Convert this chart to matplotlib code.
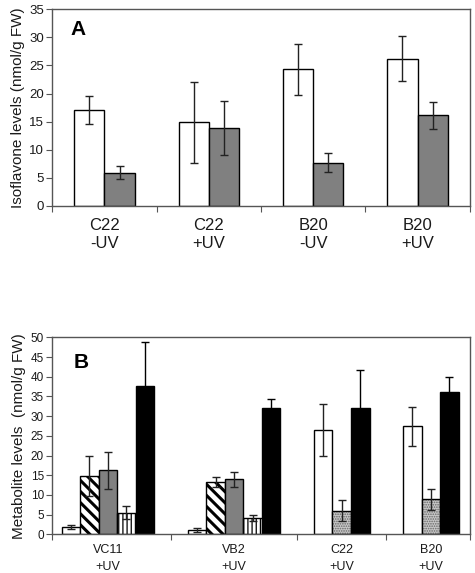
import numpy as np
import matplotlib
matplotlib.use("Agg")
import matplotlib.pyplot as plt

plt.rcParams['font.family'] = ['Liberation Sans', 'DejaVu Sans']

# ---------------- Panel A data ----------------
a_categories = ['C22\n-UV', 'C22\n+UV', 'B20\n-UV', 'B20\n+UV']
a_white = [17.0, 14.9, 24.3, 26.2]
a_white_err = [2.5, 7.2, 4.5, 3.95]
a_gray = [5.9, 13.9, 7.7, 16.1]
a_gray_err = [1.15, 4.8, 1.7, 2.45]
a_yticks = [0, 5, 10, 15, 20, 25, 30, 35]

# ---------------- Panel B data ----------------
b_categories = ['VC11\n+UV', 'VB2\n+UV', 'C22\n+UV', 'B20\n+UV']
nan = np.nan
b_white = [1.9, 1.0, 26.4, 27.4]
b_white_err = [0.5, 0.5, 6.6, 4.9]
b_hatch = [14.8, 13.2, nan, nan]
b_hatch_err = [5.1, 1.3, nan, nan]
b_gray = [16.2, 14.0, nan, nan]
b_gray_err = [4.6, 1.9, nan, nan]
b_vert = [5.5, 4.1, nan, nan]
b_vert_err = [1.6, 0.8, nan, nan]
b_dot = [nan, nan, 6.0, 8.9]
b_dot_err = [nan, nan, 2.6, 2.6]
b_black = [37.7, 32.1, 32.1, 36.1]
b_black_err = [11.1, 2.2, 9.6, 3.9]
b_yticks = [0, 5, 10, 15, 20, 25, 30, 35, 40, 45, 50]

fig = plt.figure(figsize=(4.75, 5.73), dpi=100)

spine_col = '#555555'
txt_col = '#1a1a1a'
err_kw = dict(ecolor='#222222', elinewidth=1.0, capsize=3, capthick=1.0)
err_kw_black = dict(ecolor='black', elinewidth=1.0, capsize=3, capthick=1.0)

# ================= Panel A =================
axA = fig.add_axes([0.110, 0.6405, 0.879, 0.3435])
xa = np.arange(len(a_categories))
w = 0.29
axA.bar(xa - w / 2, a_white, w, color='white', edgecolor='black', linewidth=1.0,
        yerr=a_white_err, error_kw=err_kw, zorder=2)
axA.bar(xa + w / 2, a_gray, w, color='#808080', edgecolor='black', linewidth=1.0,
        yerr=a_gray_err, error_kw=err_kw, zorder=2)
axA.set_xlim(-0.5, len(a_categories) - 0.5)
axA.set_ylim(0, 35)
axA.set_yticks(a_yticks)
axA.set_yticklabels([str(t) for t in a_yticks], fontsize=9.5, color=txt_col)
axA.set_xticks(np.arange(-0.5, len(a_categories), 1.0))
axA.set_xticklabels([])
axA.set_xticks(xa, minor=True)
axA.set_xticklabels(a_categories, minor=True, fontsize=12, color=txt_col, linespacing=1.2)
axA.tick_params(axis='x', which='minor', length=0, pad=9)
axA.tick_params(axis='x', which='major', length=4, color=spine_col, direction='out')
axA.tick_params(axis='y', length=4, color=spine_col, direction='out', pad=2)
axA.set_ylabel('Isoflavone levels (nmol/g FW)', fontsize=11, color=txt_col, labelpad=3)
for s in axA.spines.values():
    s.set_color(spine_col)
    s.set_linewidth(1.0)
axA.text(0.044, 0.895, 'A', transform=axA.transAxes, fontsize=15, fontweight='bold',
         color='black', ha='left', va='center')

# ================= Panel B =================
axB = fig.add_axes([0.110, 0.0675, 0.879, 0.3438])
series = [
    (b_white, b_white_err, dict(color='white', edgecolor='black'), None),
    (b_hatch, b_hatch_err, dict(color='white', edgecolor='black', hatch='\\\\\\'), 2.2),
    (b_gray, b_gray_err, dict(color='#808080', edgecolor='black'), None),
    (b_vert, b_vert_err, dict(color='white', edgecolor='black', hatch='||||'), 0.9),
    (b_dot, b_dot_err, dict(color='#c8c8c8', edgecolor='#666666', hatch='.......'), 0.8),
    (b_black, b_black_err, dict(color='black', edgecolor='black'), None),
]
ncat = len(b_categories)
# layout: bars of width 1 contiguous within each group
left_margin, group_gap, right_margin = 0.5, 1.8, 0.6
counts = [sum(1 for s in series if not np.isnan(s[0][i])) for i in range(ncat)]
starts = []
pos = left_margin
for i, c in enumerate(counts):
    starts.append(pos)
    pos += c + (group_gap if i < ncat - 1 else right_margin)
xmax = pos
centers = [starts[i] + counts[i] / 2 for i in range(ncat)]
bounds = [starts[i] + counts[i] + group_gap / 2 for i in range(ncat - 1)]

slot = [0] * ncat
for vals, errs, style, hlw in series:
    xs, ys, es = [], [], []
    for i in range(ncat):
        if np.isnan(vals[i]):
            continue
        xs.append(starts[i] + slot[i] + 0.5)
        ys.append(vals[i])
        es.append(errs[i])
        slot[i] += 1
    if hlw is not None:
        plt.rcParams['hatch.linewidth'] = hlw
    ekw = err_kw_black if style['color'] == 'black' else err_kw
    if style.get('hatch', '').startswith('.'):
        axB.bar(xs, ys, 1.0, linewidth=0, zorder=2, **style)
        axB.bar(xs, ys, 1.0, color='none', edgecolor='black', linewidth=1.0, zorder=2.1,
                yerr=es, error_kw=ekw)
    else:
        axB.bar(xs, ys, 1.0, linewidth=1.0, zorder=2, yerr=es, error_kw=ekw, **style)
    plt.rcParams['hatch.linewidth'] = 1.0

axB.set_xlim(0, xmax)
axB.set_ylim(0, 50)
axB.set_yticks(b_yticks)
axB.set_yticklabels([str(t) for t in b_yticks], fontsize=8.5, color=txt_col)
axB.set_xticks([0] + bounds + [xmax])
axB.set_xticklabels([])
axB.set_xticks(centers, minor=True)
axB.set_xticklabels(b_categories, minor=True, fontsize=9, color=txt_col, linespacing=1.5)
axB.tick_params(axis='x', which='minor', length=0, pad=7)
axB.tick_params(axis='x', which='major', length=4, color=spine_col, direction='out')
axB.tick_params(axis='y', length=4, color=spine_col, direction='out', pad=2)
axB.set_ylabel('Metabolite levels  (nmol/g FW)', fontsize=11, color=txt_col, labelpad=3)
for s in axB.spines.values():
    s.set_color(spine_col)
    s.set_linewidth(1.0)
axB.text(0.05, 0.87, 'B', transform=axB.transAxes, fontsize=15, fontweight='bold',
         color='black', ha='left', va='center')

fig.savefig('out.png', dpi=100)
